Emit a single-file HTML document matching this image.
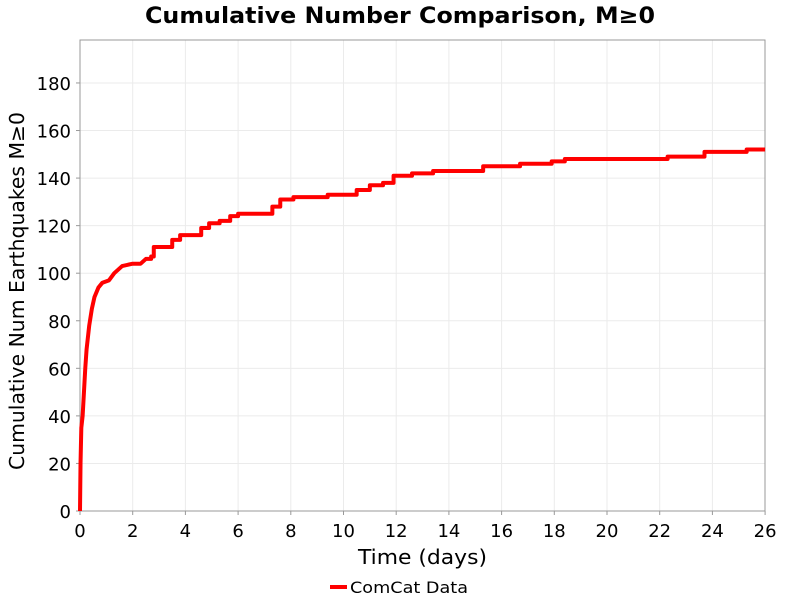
<!DOCTYPE html>
<html><head><meta charset="utf-8"><style>
body{margin:0;background:#fff}
svg{font-family:"DejaVu Sans","Liberation Sans",sans-serif}
</style></head><body>
<svg id="s" width="800" height="600" viewBox="0 0 800 600" xmlns="http://www.w3.org/2000/svg">
<rect width="800" height="600" fill="#fff"/>
<g id="grid" stroke="#ebebeb" stroke-width="1"></g>
<rect x="80" y="40" width="685" height="471" fill="none" stroke="#999" stroke-width="1"/>
<g id="ticks" font-size="18" fill="#000"></g>
<text x="145" y="23" font-size="22" font-weight="bold" textLength="510" lengthAdjust="spacingAndGlyphs">Cumulative Number Comparison, M≥0</text>
<text x="358" y="564" font-size="20" textLength="129" lengthAdjust="spacingAndGlyphs">Time (days)</text>
<text transform="translate(24,470) rotate(-90)" font-size="20" textLength="358" lengthAdjust="spacingAndGlyphs">Cumulative Num Earthquakes M≥0</text>
<path id="curve" fill="none" stroke="#ff0000" stroke-width="4" stroke-linejoin="round"/>
<line x1="330" y1="587" x2="347" y2="587" stroke="#ff0000" stroke-width="4"/>
<text x="350" y="593" font-size="16" textLength="118" lengthAdjust="spacingAndGlyphs">ComCat Data</text>
</svg>
<script>
var X=d=>80+26.35*d, Y=v=>511-2.378*v;
var g=document.getElementById('grid'),t=document.getElementById('ticks'),ns='http://www.w3.org/2000/svg';
function el(p,n,a,txt){var e=document.createElementNS(ns,n);for(var k in a)e.setAttribute(k,a[k]);if(txt!=null)e.textContent=txt;p.appendChild(e);}
for(var d=0;d<=26;d+=2){if(d>0&&d<26)el(g,'line',{x1:X(d),x2:X(d),y1:40,y2:511});el(t,'text',{x:X(d),y:537,'text-anchor':'middle'},d);el(t,'line',{x1:X(d),x2:X(d),y1:511,y2:515,stroke:'#999'});}
for(var v=0;v<=180;v+=20){if(v>0)el(g,'line',{x1:80,x2:765,y1:Y(v),y2:Y(v)});el(t,'text',{x:71,y:Y(v)+7,'text-anchor':'end'},v);el(t,'line',{x1:76,x2:80,y1:Y(v),y2:Y(v),stroke:'#999'});}
var p=[[0,0],[0.02,20],[0.05,35],[0.1,40],[0.15,50],[0.2,60],[0.25,68],[0.35,78],[0.45,85],[0.55,90],[0.7,94],[0.85,96],[1.1,97],[1.3,100],[1.6,103],[2,104],[2.3,104],[2.5,106],[2.7,107],[2.8,111],[3.1,111],[3.5,114],[3.8,116],[4.3,116],[4.6,119],[4.9,121],[5.3,122],[5.7,124],[6,125],[7,125],[7.3,128],[7.6,131],[8.1,132],[9.4,133],[10.5,135],[11,137],[11.5,138],[11.9,141],[12.6,142],[13.4,143],[15.3,145],[16.7,146],[17.9,147],[18.4,148],[22.3,149],[23.7,151],[25.3,152],[26,152]];
var s='M'+X(0)+' '+Y(0);
for(var i=1;i<p.length;i++){var a=p[i];if(a[0]>2.5){s+=' L'+X(a[0])+' '+Y(p[i-1][1])+' L'+X(a[0])+' '+Y(a[1]);}else s+=' L'+X(a[0])+' '+Y(a[1]);}
document.getElementById('curve').setAttribute('d',s);
</script>
</body></html>
